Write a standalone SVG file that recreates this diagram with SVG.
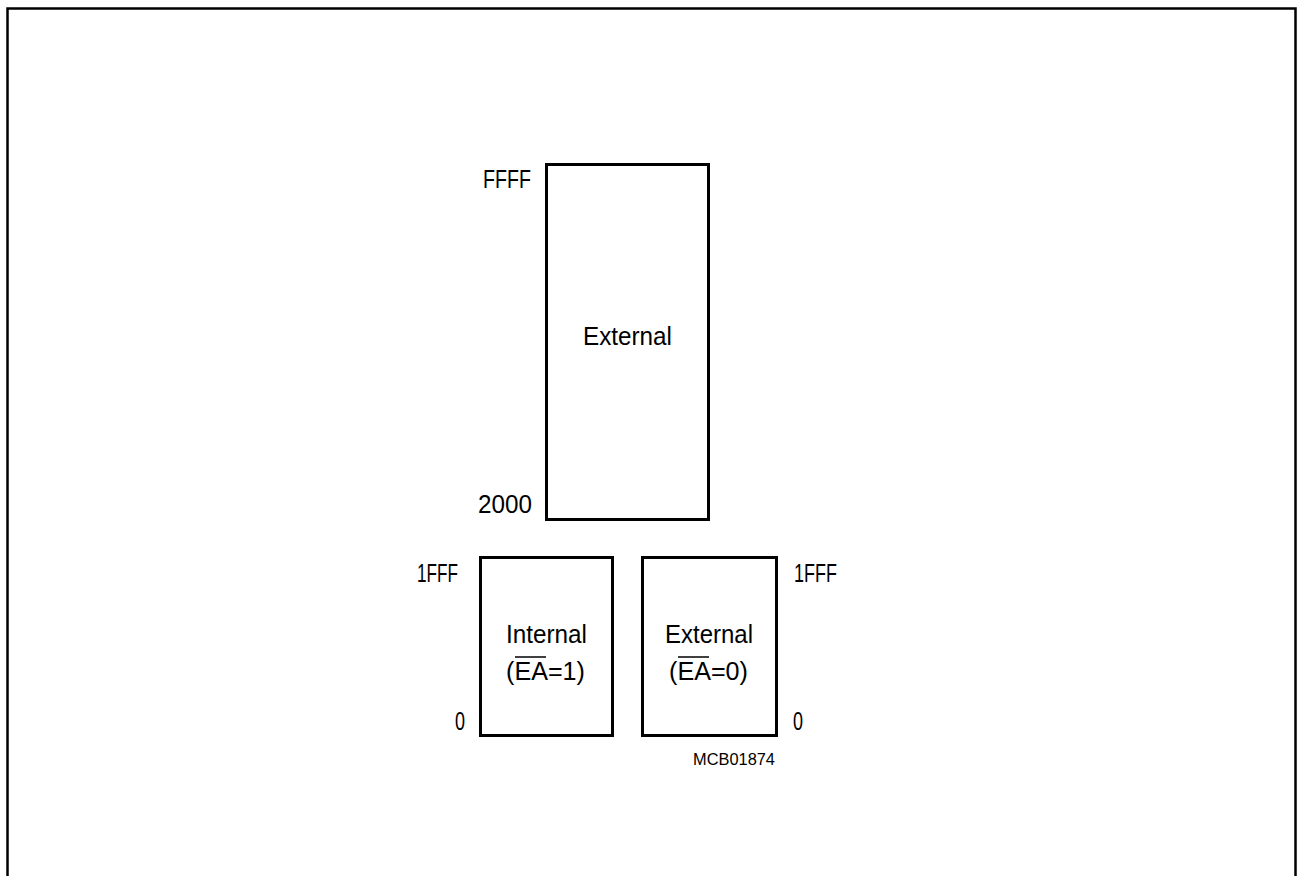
<svg xmlns="http://www.w3.org/2000/svg" width="1297" height="876" viewBox="0 0 1297 876">
<style>
.box{fill:none;stroke:#000;stroke-width:3}
.t{font-family:"Liberation Sans",Arial,sans-serif;font-size:25px;fill:#000}
.s{font-family:"Liberation Sans",Arial,sans-serif;font-size:17px;fill:#000}
.ol{stroke:#000;stroke-width:1.5}
</style>
<rect width="1297" height="876" fill="#fff"/>
<path d="M7.5,876 V8.5 H1295.5 V876" fill="none" stroke="#000" stroke-width="2.5"/>
<g id="ext-high">
<rect class="box" x="546.5" y="164.5" width="162" height="355"/>
<text class="t" x="583" y="345" textLength="89" lengthAdjust="spacingAndGlyphs">External</text>
<text class="t" x="483" y="188" textLength="48" lengthAdjust="spacingAndGlyphs">FFFF</text>
<text class="t" x="478" y="513" textLength="54" lengthAdjust="spacingAndGlyphs">2000</text>
</g>
<g id="internal">
<rect class="box" x="480.5" y="557.5" width="132" height="178"/>
<text class="t" x="506" y="643" textLength="81" lengthAdjust="spacingAndGlyphs">Internal</text>
<text class="t" x="506" y="680" textLength="79" lengthAdjust="spacingAndGlyphs">(EA=1)</text>
<line class="ol" x1="515" y1="657" x2="546" y2="657"/>
<text class="t" x="417" y="582" textLength="41" lengthAdjust="spacingAndGlyphs">1FFF</text>
<text class="t" x="455" y="730" textLength="10" lengthAdjust="spacingAndGlyphs">0</text>
</g>
<g id="external-low">
<rect class="box" x="642.5" y="557.5" width="134" height="178"/>
<text class="t" x="665" y="643" textLength="88" lengthAdjust="spacingAndGlyphs">External</text>
<text class="t" x="669" y="680" textLength="79" lengthAdjust="spacingAndGlyphs">(EA=0)</text>
<line class="ol" x1="678" y1="657" x2="709" y2="657"/>
<text class="t" x="794" y="582" textLength="43" lengthAdjust="spacingAndGlyphs">1FFF</text>
<text class="t" x="793" y="730" textLength="10" lengthAdjust="spacingAndGlyphs">0</text>
</g>
<g id="connectors"></g>
<text class="s" x="693" y="765" textLength="82" lengthAdjust="spacingAndGlyphs">MCB01874</text>
</svg>
